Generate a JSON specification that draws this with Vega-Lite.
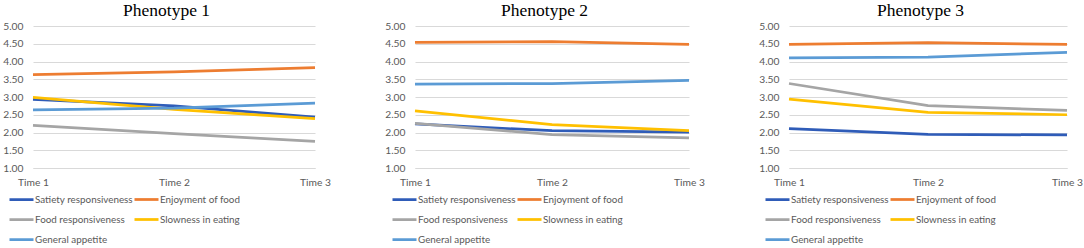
{
  "$schema": "https://vega.github.io/schema/vega-lite/v6.json",
  "padding": {"left": 2, "top": 1, "right": 0, "bottom": 0},
  "background": "white",
  "bounds": "flush",
  "spacing": 100,
  "config": {
    "view": {"stroke": null},
    "font": "Lato",
    "title": {"font": "Liberation Serif", "fontSize": 17.5, "fontWeight": "normal", "color": "#000000", "frame": "bounds", "anchor": "middle", "offset": 2},
    "axis": {"labelFont": "Lato", "labelFontSize": 10.25, "labelColor": "#595959", "ticks": false, "tickSize": 0, "domain": false, "gridColor": "#D9D9D9", "gridWidth": 1, "title": null},
    "legend": {"labelFont": "Lato", "labelFontSize": 9.85, "labelColor": "#595959", "labelOffset": 0, "rowPadding": 1, "columnPadding": 0, "clipHeight": 19, "symbolStrokeWidth": 3, "symbolSize": 576, "symbolType": "stroke", "padding": 0, "title": null},
    "line": {"strokeWidth": 2.75}
  },
  "data": {"values": [
    {"phenotype": "Phenotype 1", "factor": "Satiety responsiveness", "time": "Time 1", "value": 2.93},
    {"phenotype": "Phenotype 1", "factor": "Satiety responsiveness", "time": "Time 2", "value": 2.75},
    {"phenotype": "Phenotype 1", "factor": "Satiety responsiveness", "time": "Time 3", "value": 2.43},
    {"phenotype": "Phenotype 1", "factor": "Enjoyment of food", "time": "Time 1", "value": 3.63},
    {"phenotype": "Phenotype 1", "factor": "Enjoyment of food", "time": "Time 2", "value": 3.71},
    {"phenotype": "Phenotype 1", "factor": "Enjoyment of food", "time": "Time 3", "value": 3.83},
    {"phenotype": "Phenotype 1", "factor": "Food responsiveness", "time": "Time 1", "value": 2.20},
    {"phenotype": "Phenotype 1", "factor": "Food responsiveness", "time": "Time 2", "value": 1.97},
    {"phenotype": "Phenotype 1", "factor": "Food responsiveness", "time": "Time 3", "value": 1.75},
    {"phenotype": "Phenotype 1", "factor": "Slowness in eating", "time": "Time 1", "value": 2.99},
    {"phenotype": "Phenotype 1", "factor": "Slowness in eating", "time": "Time 2", "value": 2.65},
    {"phenotype": "Phenotype 1", "factor": "Slowness in eating", "time": "Time 3", "value": 2.39},
    {"phenotype": "Phenotype 1", "factor": "General appetite", "time": "Time 1", "value": 2.64},
    {"phenotype": "Phenotype 1", "factor": "General appetite", "time": "Time 2", "value": 2.69},
    {"phenotype": "Phenotype 1", "factor": "General appetite", "time": "Time 3", "value": 2.83},
    {"phenotype": "Phenotype 2", "factor": "Satiety responsiveness", "time": "Time 1", "value": 2.24},
    {"phenotype": "Phenotype 2", "factor": "Satiety responsiveness", "time": "Time 2", "value": 2.05},
    {"phenotype": "Phenotype 2", "factor": "Satiety responsiveness", "time": "Time 3", "value": 2.01},
    {"phenotype": "Phenotype 2", "factor": "Enjoyment of food", "time": "Time 1", "value": 4.54},
    {"phenotype": "Phenotype 2", "factor": "Enjoyment of food", "time": "Time 2", "value": 4.56},
    {"phenotype": "Phenotype 2", "factor": "Enjoyment of food", "time": "Time 3", "value": 4.48},
    {"phenotype": "Phenotype 2", "factor": "Food responsiveness", "time": "Time 1", "value": 2.26},
    {"phenotype": "Phenotype 2", "factor": "Food responsiveness", "time": "Time 2", "value": 1.94},
    {"phenotype": "Phenotype 2", "factor": "Food responsiveness", "time": "Time 3", "value": 1.85},
    {"phenotype": "Phenotype 2", "factor": "Slowness in eating", "time": "Time 1", "value": 2.61},
    {"phenotype": "Phenotype 2", "factor": "Slowness in eating", "time": "Time 2", "value": 2.22},
    {"phenotype": "Phenotype 2", "factor": "Slowness in eating", "time": "Time 3", "value": 2.05},
    {"phenotype": "Phenotype 2", "factor": "General appetite", "time": "Time 1", "value": 3.36},
    {"phenotype": "Phenotype 2", "factor": "General appetite", "time": "Time 2", "value": 3.38},
    {"phenotype": "Phenotype 2", "factor": "General appetite", "time": "Time 3", "value": 3.47},
    {"phenotype": "Phenotype 3", "factor": "Satiety responsiveness", "time": "Time 1", "value": 2.11},
    {"phenotype": "Phenotype 3", "factor": "Satiety responsiveness", "time": "Time 2", "value": 1.95},
    {"phenotype": "Phenotype 3", "factor": "Satiety responsiveness", "time": "Time 3", "value": 1.93},
    {"phenotype": "Phenotype 3", "factor": "Enjoyment of food", "time": "Time 1", "value": 4.48},
    {"phenotype": "Phenotype 3", "factor": "Enjoyment of food", "time": "Time 2", "value": 4.53},
    {"phenotype": "Phenotype 3", "factor": "Enjoyment of food", "time": "Time 3", "value": 4.48},
    {"phenotype": "Phenotype 3", "factor": "Food responsiveness", "time": "Time 1", "value": 3.38},
    {"phenotype": "Phenotype 3", "factor": "Food responsiveness", "time": "Time 2", "value": 2.76},
    {"phenotype": "Phenotype 3", "factor": "Food responsiveness", "time": "Time 3", "value": 2.62},
    {"phenotype": "Phenotype 3", "factor": "Slowness in eating", "time": "Time 1", "value": 2.94},
    {"phenotype": "Phenotype 3", "factor": "Slowness in eating", "time": "Time 2", "value": 2.57},
    {"phenotype": "Phenotype 3", "factor": "Slowness in eating", "time": "Time 3", "value": 2.50},
    {"phenotype": "Phenotype 3", "factor": "General appetite", "time": "Time 1", "value": 4.10},
    {"phenotype": "Phenotype 3", "factor": "General appetite", "time": "Time 2", "value": 4.12},
    {"phenotype": "Phenotype 3", "factor": "General appetite", "time": "Time 3", "value": 4.26}
  ]},
  "resolve": {"scale": {"color": "independent"}, "legend": {"color": "independent"}},
  "hconcat": [
    {
      "title": "Phenotype 1",
      "width": 282, "height": 142,
      "transform": [{"filter": "datum.phenotype === 'Phenotype 1'"}],
      "mark": {"type": "line", "strokeWidth": 2.75},
      "encoding": {
        "x": {"field": "time", "type": "ordinal", "scale": {"type": "point", "padding": 0}, "axis": {"labelAngle": 0, "labelPadding": 9, "grid": false, "domain": true, "domainColor": "#D9D9D9"}},
        "y": {"field": "value", "type": "quantitative", "scale": {"domain": [1, 5]}, "axis": {"values": [1, 1.5, 2, 2.5, 3, 3.5, 4, 4.5, 5], "format": ".2f", "labelPadding": 10, "grid": true}},
        "color": {"field": "factor", "type": "nominal", "scale": {"domain": ["Satiety responsiveness", "Food responsiveness", "General appetite", "Enjoyment of food", "Slowness in eating"], "range": ["#2F5CB8", "#A5A5A5", "#5B9BD5", "#ED7D31", "#FFC000"]}, "legend": {"orient": "none", "legendX": -25, "legendY": 164, "columns": 2}}
      }
    },
    {
      "title": "Phenotype 2",
      "width": 274, "height": 142,
      "transform": [{"filter": "datum.phenotype === 'Phenotype 2'"}],
      "mark": {"type": "line", "strokeWidth": 2.75},
      "encoding": {
        "x": {"field": "time", "type": "ordinal", "scale": {"type": "point", "padding": 0}, "axis": {"labelAngle": 0, "labelPadding": 9, "grid": false, "domain": true, "domainColor": "#D9D9D9"}},
        "y": {"field": "value", "type": "quantitative", "scale": {"domain": [1, 5]}, "axis": {"values": [1, 1.5, 2, 2.5, 3, 3.5, 4, 4.5, 5], "format": ".2f", "labelPadding": 10, "grid": true}},
        "color": {"field": "factor", "type": "nominal", "scale": {"domain": ["Satiety responsiveness", "Food responsiveness", "General appetite", "Enjoyment of food", "Slowness in eating"], "range": ["#2F5CB8", "#A5A5A5", "#5B9BD5", "#ED7D31", "#FFC000"]}, "legend": {"orient": "none", "legendX": -24, "legendY": 164, "columns": 2}}
      }
    },
    {
      "title": "Phenotype 3",
      "width": 278, "height": 142,
      "transform": [{"filter": "datum.phenotype === 'Phenotype 3'"}],
      "mark": {"type": "line", "strokeWidth": 2.75},
      "encoding": {
        "x": {"field": "time", "type": "ordinal", "scale": {"type": "point", "padding": 0}, "axis": {"labelAngle": 0, "labelPadding": 9, "grid": false, "domain": true, "domainColor": "#D9D9D9"}},
        "y": {"field": "value", "type": "quantitative", "scale": {"domain": [1, 5]}, "axis": {"values": [1, 1.5, 2, 2.5, 3, 3.5, 4, 4.5, 5], "format": ".2f", "labelPadding": 10, "grid": true}},
        "color": {"field": "factor", "type": "nominal", "scale": {"domain": ["Satiety responsiveness", "Food responsiveness", "General appetite", "Enjoyment of food", "Slowness in eating"], "range": ["#2F5CB8", "#A5A5A5", "#5B9BD5", "#ED7D31", "#FFC000"]}, "legend": {"orient": "none", "legendX": -25, "legendY": 164, "columns": 2}}
      }
    }
  ]
}
